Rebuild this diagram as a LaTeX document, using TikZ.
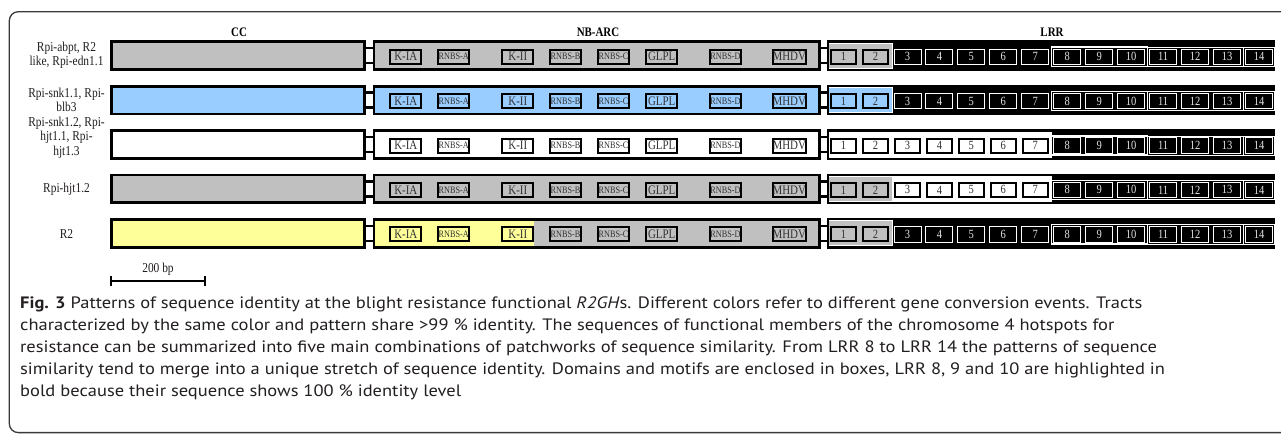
\documentclass[tikz,border=0pt]{standalone}
\usepackage{fontspec}
\setmainfont{Liberation Serif}
\newfontfamily\dfont[FakeStretch=0.84]{Liberation Serif}
\newfontfamily\capfont[FakeStretch=1.12]{PT Sans}
\definecolor{cgrey}{HTML}{C0C0C0}
\definecolor{cblue}{HTML}{99CCFF}
\definecolor{cyellow}{HTML}{FFFF99}
\definecolor{ink}{HTML}{333333}
\definecolor{numlight}{HTML}{E4E4E4}
\definecolor{captxt}{HTML}{231F20}
\definecolor{framecol}{HTML}{3A3A3A}
\def\blk{black}
\tikzset{
  dombox/.style={draw=black, line width=2.8pt},
  linkbox/.style={draw=black, fill=white, line width=2.4pt},
  motif/.style={draw=black, line width=2pt, minimum width=31pt, minimum height=14pt,
    inner sep=0pt, text=ink},
  rep/.style={draw=black, line width=2pt, minimum width=25.5pt, minimum height=14pt,
    inner sep=0pt, text=ink, font=\dfont\fontsize{12.5}{12.5}\selectfont},
  repk/.style={draw=white, line width=0.8pt, fill=black, minimum width=27pt,
    minimum height=15.5pt, inner sep=0pt, text=numlight, font=\dfont\fontsize{12.5}{12.5}\selectfont},
  grp/.style={draw=white, line width=0.8pt},
  grpbold/.style={draw=white, line width=1.3pt},
  hdr/.style={inner sep=0pt, font=\dfont\bfseries\fontsize{13}{13}\selectfont},
  lbl/.style={inner sep=0pt, align=center, text=captxt, font=\dfont\fontsize{13.6}{14.5}\selectfont},
  capt/.style={anchor=base west, inner sep=0pt, text=captxt, font=\capfont\fontsize{16.5}{20}\selectfont},
}
% one gene model: #1 name, #2 y centre, #3 CC colour, #4 NB-ARC left colour,
% #5 end of the left colour, #6 NB-ARC colour, #7 LRR 1-2 colour, #8 LRR 3-7 colour
\newcommand\generow[8]{%
  \draw[linkbox] (364.6,#2-7.5) rectangle (374,#2+7.5);
  \draw[linkbox] (819.6,#2-7.5) rectangle (828,#2+7.5);
  \filldraw[dombox, fill=#3] (111.4,#2-13.9) rectangle (364.6,#2+13.9);
  \fill[#6] (374,#2-13.9) rectangle (819.6,#2+13.9);
  \fill[#4] (374,#2-13.9) rectangle (#5,#2+13.9);
  \draw[dombox] (374,#2-13.9) rectangle (819.6,#2+13.9);
  \foreach \mx/\mt/\fs [count=\i] in {405.8/K-IA/13, 453.7/RNBS-A/9.8, 517.8/K-II/13,
      565.5/RNBS-B/9.8, 613.5/RNBS-C/9.8, 661.7/GLPL/13, 725.5/RNBS-D/9.8, 789.3/MHDV/13}{%
    \pgfmathtruncatemacro\isleft{\mx<#5}%
    \ifnum\isleft=1 \def\mc{#4}\else\def\mc{#6}\fi
    \node[motif, fill=\mc, font=\dfont\fontsize{\fs}{\fs}\selectfont] (#1-m\i) at (\mx,#2+1) {\mt};
  }
  \filldraw[dombox, fill=black] (828,#2-13.9) rectangle (1273.6,#2+13.9);
  \edef\cA{#7}\edef\cB{#8}%
  \ifx\cA\cB
    \fill[#7] (829.4,#2-12.5) rectangle (1051.5,#2+12.5);
    \draw[grp] (829.4,#2-12.5) -- (1051.5,#2-12.5) -- (1051.5,#2+12.5) -- (829.4,#2+12.5);
  \else
    \ifx\cB\blk\else
      \fill[#8] (892,#2-12.5) rectangle (1051.5,#2+12.5);
      \draw[grp] (892,#2-12.5) -- (1051.5,#2-12.5) -- (1051.5,#2+12.5) -- (892,#2+12.5);
    \fi
    \fill[#7] (829.4,#2-12.5) rectangle (892,#2+12.5);
    \draw[grp] (829.4,#2-12.5) -- (892,#2-12.5) -- (892,#2+12.5) -- (829.4,#2+12.5);
  \fi
  \draw[grpbold] (1051.5,#2-8.6) rectangle (1147.3,#2+10.6);
  \draw[grp] (1147.3,#2-8.6) rectangle (1243.2,#2+10.6);
  \draw[grp] (1243.2,#2-8.6) rectangle (1274.2,#2+10.6);
  \foreach \k in {1,...,14}{%
    \pgfmathsetmacro\bx{843.5+31.96*(\k-1)}%
    \ifnum\k<3 \edef\cur{#7}\else\ifnum\k<8 \edef\cur{#8}\else\edef\cur{black}\fi\fi
    \ifx\cur\blk
      \node[repk] (#1-r\k) at (\bx,#2+1) {\k};
    \else
      \node[rep, fill=\cur] (#1-r\k) at (\bx,#2+1) {\k};
    \fi
  }
}
\begin{document}
\begin{tikzpicture}[x=1pt,y=-1pt]
\useasboundingbox (0,0) rectangle (1281,434);
\clip (0,0) rectangle (1281,434);
\fill[white] (0,0) rectangle (1281,434);
% outer frame, open to the right
\draw[line width=1.3pt, draw=framecol, rounded corners=9pt]
  (1300,432.6) -- (9.3,432.6) -- (9.3,11.7) -- (1300,11.7);

% domain headings
\node[hdr] (hcc) at (239,32) {CC};
\node[hdr] (hnb) at (598,32) {NB-ARC};
\node[hdr] (hlrr) at (1052,32) {LRR};

% gene models
\generow{ra}{55.7}{cgrey}{cgrey}{374}{cgrey}{cgrey}{black}
\generow{rb}{100.1}{cblue}{cblue}{374}{cblue}{cblue}{black}
\generow{rc}{144.5}{white}{white}{374}{white}{white}{white}
\generow{rd}{188.9}{cgrey}{cgrey}{374}{cgrey}{cgrey}{white}
\generow{re}{233.3}{cyellow}{cyellow}{534}{cgrey}{cgrey}{black}

% gene names
\node[lbl] (la) at (66.5,55.2) {Rpi-abpt, R2\\like, Rpi-edn1.1};
\node[lbl] (lb) at (66.5,100) {Rpi-snk1.1, Rpi-\\blb3};
\node[lbl] (lc) at (66.5,137.5) {Rpi-snk1.2, Rpi-\\hjt1.1, Rpi-\\hjt1.3};
\node[lbl] (ld) at (66.5,189.3) {Rpi-hjt1.2};
\node[lbl] (le) at (66.5,234) {R2};

% scale bar
\coordinate (sbl) at (111.4,281);
\coordinate (sbr) at (205.4,281);
\draw[line width=1.3pt] (sbl) -- (sbr);
\draw[line width=2pt] ([yshift=-5pt]sbl) -- ([yshift=5pt]sbl);
\draw[line width=2pt] ([yshift=-5pt]sbr) -- ([yshift=5pt]sbr);
\node[lbl] (sbt) at (158,269) {200 bp};

% caption
\node[capt] (cap1) at (20,308) {{\bfseries Fig. 3} Patterns of sequence identity at the blight resistance functional \textit{R2GH}s. Different colors refer to different gene conversion events. Tracts};
\node[capt] (cap2) at (20,330) {characterized by the same color and pattern share >99 \% identity. The sequences of functional members of the chromosome 4 hotspots for};
\node[capt] (cap3) at (20,352) {resistance can be summarized into five main combinations of patchworks of sequence similarity. From LRR 8 to LRR 14 the patterns of sequence};
\node[capt] (cap4) at (20,374) {similarity tend to merge into a unique stretch of sequence identity. Domains and motifs are enclosed in boxes, LRR 8, 9 and 10 are highlighted in};
\node[capt] (cap5) at (20,396) {bold because their sequence shows 100 \% identity level};
\end{tikzpicture}
\end{document}
